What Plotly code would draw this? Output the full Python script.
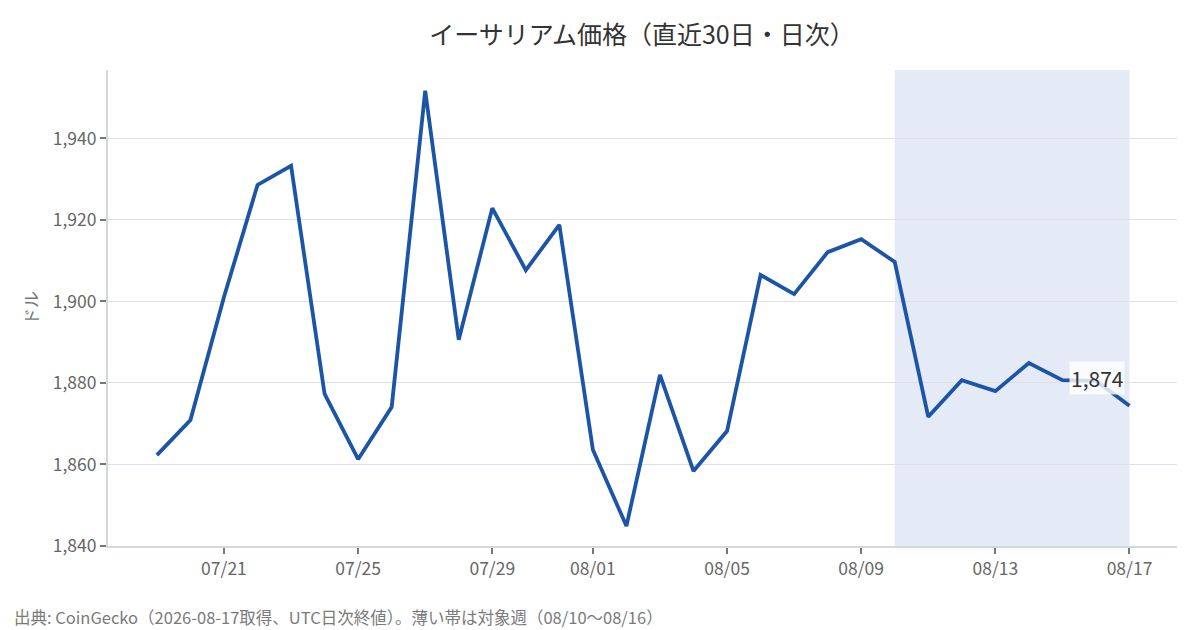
import plotly.graph_objects as go

FONT = "Noto Sans CJK JP"

# daily close, ETH in USD
dates = [
    "2026-07-19", "2026-07-20", "2026-07-21", "2026-07-22", "2026-07-23",
    "2026-07-24", "2026-07-25", "2026-07-26", "2026-07-27", "2026-07-28",
    "2026-07-29", "2026-07-30", "2026-07-31", "2026-08-01", "2026-08-02",
    "2026-08-03", "2026-08-04", "2026-08-05", "2026-08-06", "2026-08-07",
    "2026-08-08", "2026-08-09", "2026-08-10", "2026-08-11", "2026-08-12",
    "2026-08-13", "2026-08-14", "2026-08-15", "2026-08-16", "2026-08-17",
]
prices = [
    1862.3, 1870.9, 1901.1, 1928.6, 1933.3,
    1877.3, 1861.3, 1874.1, 1951.7, 1890.6,
    1922.9, 1907.7, 1918.8, 1863.6, 1844.9,
    1882.0, 1858.4, 1868.2, 1906.5, 1901.8,
    1912.1, 1915.3, 1909.7, 1871.7, 1880.7,
    1878.0, 1884.9, 1880.7, 1880.5, 1874.4,
]

tick_vals = ["2026-07-21", "2026-07-25", "2026-07-29", "2026-08-01",
             "2026-08-05", "2026-08-09", "2026-08-13", "2026-08-17"]
tick_text = ["07/21", "07/25", "07/29", "08/01", "08/05", "08/09", "08/13", "08/17"]

week_start = "2026-08-10"
week_end = "2026-08-17"

fig = go.Figure()

fig.add_trace(go.Scatter(
    x=dates, y=prices, mode="lines",
    line=dict(color="#1c55a6", width=3.8),
    hoverinfo="skip", showlegend=False,
))

# highlighted week
fig.add_shape(
    type="rect", xref="x", yref="paper",
    x0=week_start, x1=week_end, y0=0, y1=1,
    fillcolor="#e5ebf6", line_width=0, layer="below",
)

# last value label
fig.add_annotation(
    x=dates[-1], y=prices[-1], text=f"{int(prices[-1]):,}",
    showarrow=False, xshift=-32, yshift=28,
    font=dict(family=FONT, size=21, color="#333333"),
    bgcolor="rgba(255,255,255,0.8)",
)

fig.add_annotation(
    xref="paper", yref="paper", x=-0.0898, y=-0.149,
    xanchor="left", yanchor="middle", showarrow=False,
    text="出典: CoinGecko（2026-08-17取得、UTC日次終値）。薄い帯は対象週（08/10〜08/16）",
    font=dict(family=FONT, size=16.5, color="#7a7a7a"),
)

fig.update_layout(
    width=1200, height=630,
    margin=dict(l=108, r=23, t=70, b=84),
    paper_bgcolor="white", plot_bgcolor="white",
    font=dict(family=FONT, color="#666666"),
    title=dict(
        text="イーサリアム価格（直近30日・日次）",
        x=0.535, xanchor="center", y=0.944, yanchor="middle",
        font=dict(family=FONT, size=25, color="#333333"),
    ),
)

fig.update_xaxes(
    type="date",
    range=["2026-07-17 13:00", "2026-08-18 10:00"],
    tickvals=tick_vals, ticktext=tick_text,
    tickfont=dict(size=17.5, color="#666666"),
    showgrid=False, showline=True, linecolor="#d3d7df", linewidth=2,
    ticks="outside", ticklen=6, tickcolor="#777777", tickwidth=2,
)

fig.update_yaxes(
    range=[1840, 1956.8], dtick=20, tick0=1840,
    tickformat=",d",
    tickfont=dict(size=17.5, color="#666666"),
    title=dict(text="ドル", font=dict(size=17, color="#777777"), standoff=10),
    showgrid=True, gridcolor="#dde0e8", gridwidth=1,
    showline=True, linecolor="#d3d7df", linewidth=2,
    ticks="outside", ticklen=6, tickcolor="#777777", tickwidth=2,
    zeroline=False,
)

fig.write_html(
    "out.html",
    config={"displayModeBar": False},
    post_script="document.body.style.margin='0';",
)
